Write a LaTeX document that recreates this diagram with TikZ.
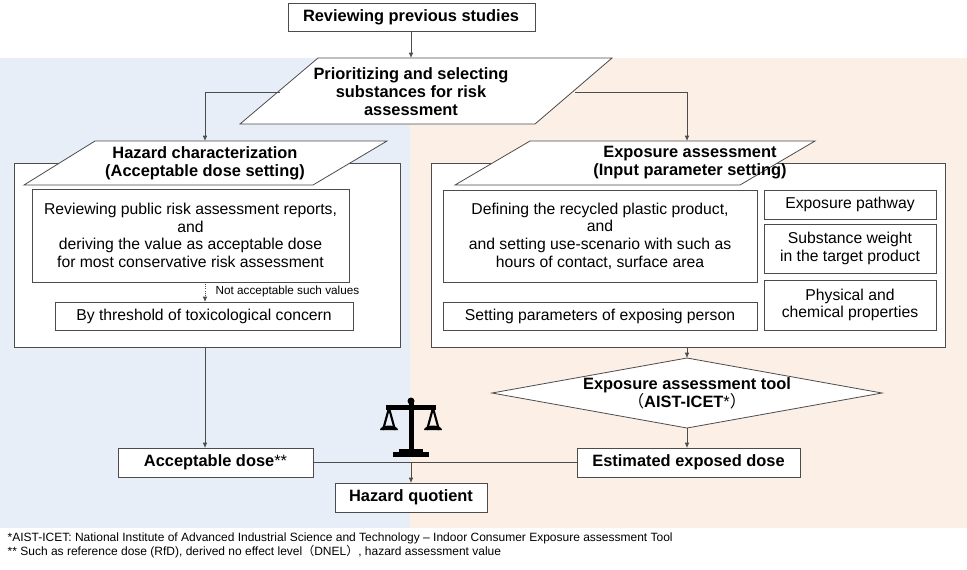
\documentclass[tikz,border=0pt]{standalone}
\usepackage{fontspec}
\setmainfont{Liberation Sans}
\newfontfamily\cjk{Noto Sans CJK SC}
\usetikzlibrary{shapes.geometric,arrows.meta}
\begin{document}
\begin{tikzpicture}[x=0.75pt,y=-0.75pt,
  box/.style={draw=black!70,fill=white,line width=0.6pt},
  arr/.style={draw=black!70,line width=0.6pt,-{Latex[length=4pt,width=3.5pt]}},
  ln/.style={draw=black!70,line width=0.6pt},
  bt/.style={font=\fontsize{12.3}{13.5}\selectfont\bfseries,align=center},
  tx/.style={font=\fontsize{11.8}{13.2}\selectfont,align=center}]
\useasboundingbox (0,0) rectangle (967,569);
\fill[fill={rgb,255:red,232;green,238;blue,248}] (0,58) rectangle (410,528);
\fill[fill={rgb,255:red,251;green,239;blue,230}] (410,58) rectangle (967,528);
% top
\draw[box] (288,3) rectangle (535,31);
\node[bt] (rev) at (411,17) {Reviewing previous studies};
\draw[box] (318,58) -- (612,58) -- (535,124) -- (240,124) -- cycle;
\node[bt] (pri) at (411,92) {Prioritizing and selecting\\substances for risk\\assessment};
\coordinate (rb) at (411,31);
\draw[arr] (rb) -- (411,58);
% panels
\draw[box] (14,163) rectangle (400,347);
\draw[box] (431,163) rectangle (945,347);
\draw[box] (95,141) -- (387,141) -- (313,185) -- (24,185) -- cycle;
\node[bt] (haz) at (205,163) {Hazard characterization\\(Acceptable dose setting)};
\draw[box] (530,141) -- (815,141) -- (740,185) -- (455,185) -- cycle;
\node[bt] (exp) at (690,163) {Exposure assessment\\(Input parameter setting)};
\coordinate (pl) at (280,92); \coordinate (pr) at (575,92);
\draw[arr] (pl) -- (205,92) -- (205,141);
\draw[arr] (pr) -- (687,92) -- (687,141);
% hazard inner
\draw[box] (32,189) rectangle (349,282);
\node[tx] (b1) at (190.5,235.5) {Reviewing public risk assessment reports,\\and\\deriving the value as acceptable dose\\for most conservative risk assessment};
\draw[box] (55,302) rectangle (353,330);
\node[tx] (b2) at (204,316) {By threshold of toxicological concern};
\draw[arr,densely dotted] (205,282) -- (205,302);
\node[anchor=west,font=\fontsize{8.8}{10}\selectfont] (na) at (211,291) {Not acceptable such values};
% exposure inner
\draw[box] (443,190) rectangle (757,282);
\node[tx] (e1) at (600,236) {Defining the recycled plastic product,\\and\\and setting use-scenario with such as\\hours of contact, surface area};
\draw[box] (443,302) rectangle (757,330);
\node[tx] (e2) at (600,316) {Setting parameters of exposing person};
\draw[box] (764,190) rectangle (936,219);
\node[tx] (e3) at (850,204.5) {Exposure pathway};
\draw[box] (764,224) rectangle (936,273);
\node[tx] (e4) at (850,248.5) {Substance weight\\in the target product};
\draw[box] (764,280) rectangle (936,330);
\node[tx] (e5) at (850,305) {Physical and\\chemical properties};
% diamond
\draw[box] (687,358) -- (882,393) -- (687,428) -- (492,393) -- cycle;
\node[bt] (tool) at (687,393) {Exposure assessment tool\\{\mdseries\cjk （}AIST-ICET{\mdseries*\cjk ）}};
\draw[arr] (687,347) -- (687,358);
\draw[arr] (687,428) -- (687,448);
% bottom
\draw[box] (118,448) rectangle (313,477);
\node[bt] (ad) at (215.5,462.5) {Acceptable dose\mdseries**};
\draw[box] (577,448) rectangle (800,477);
\node[bt] (ed) at (688.5,462.5) {Estimated exposed dose};
\draw[box] (335,483) rectangle (487,512);
\node[bt] (hq) at (411,497.5) {Hazard quotient};
\draw[arr] (205,347) -- (205,448);
\draw[ln] (313,462) -- (577,462);
\draw[arr] (411,462) -- (411,483);
% scale icon
\begin{scope}[fill=black]
\fill (408.5,402) rectangle (413.5,455);
\fill (399,449) rectangle (423,453);
\fill (393,452) rectangle (429,457);
\fill (411,401) circle (3.5);
\fill[white] (411,407) circle (1.3);
\fill (386,405) rectangle (436,409.5);
\draw[line width=1.6pt] (389,408) -- (383,430) (389,408) -- (395,430);
\draw[line width=1.6pt] (433,408) -- (427,430) (433,408) -- (439,430);
\fill (380,430) -- (398,430) arc (0:-180:9 and 4.5) -- cycle;
\fill (424,430) -- (442,430) arc (0:-180:9 and 4.5) -- cycle;
\end{scope}
% footnotes
\node[anchor=west,font=\fontsize{9}{10}\selectfont] (f1) at (3,538) {*AIST-ICET: National Institute of Advanced Industrial Science and Technology – Indoor Consumer Exposure assessment Tool};
\node[anchor=west,font=\fontsize{9}{10}\selectfont] (f2) at (3,552) {** Such as reference dose (RfD), derived no effect level{\cjk （}DNEL{\cjk ）}, hazard assessment value};
\end{tikzpicture}
\end{document}
